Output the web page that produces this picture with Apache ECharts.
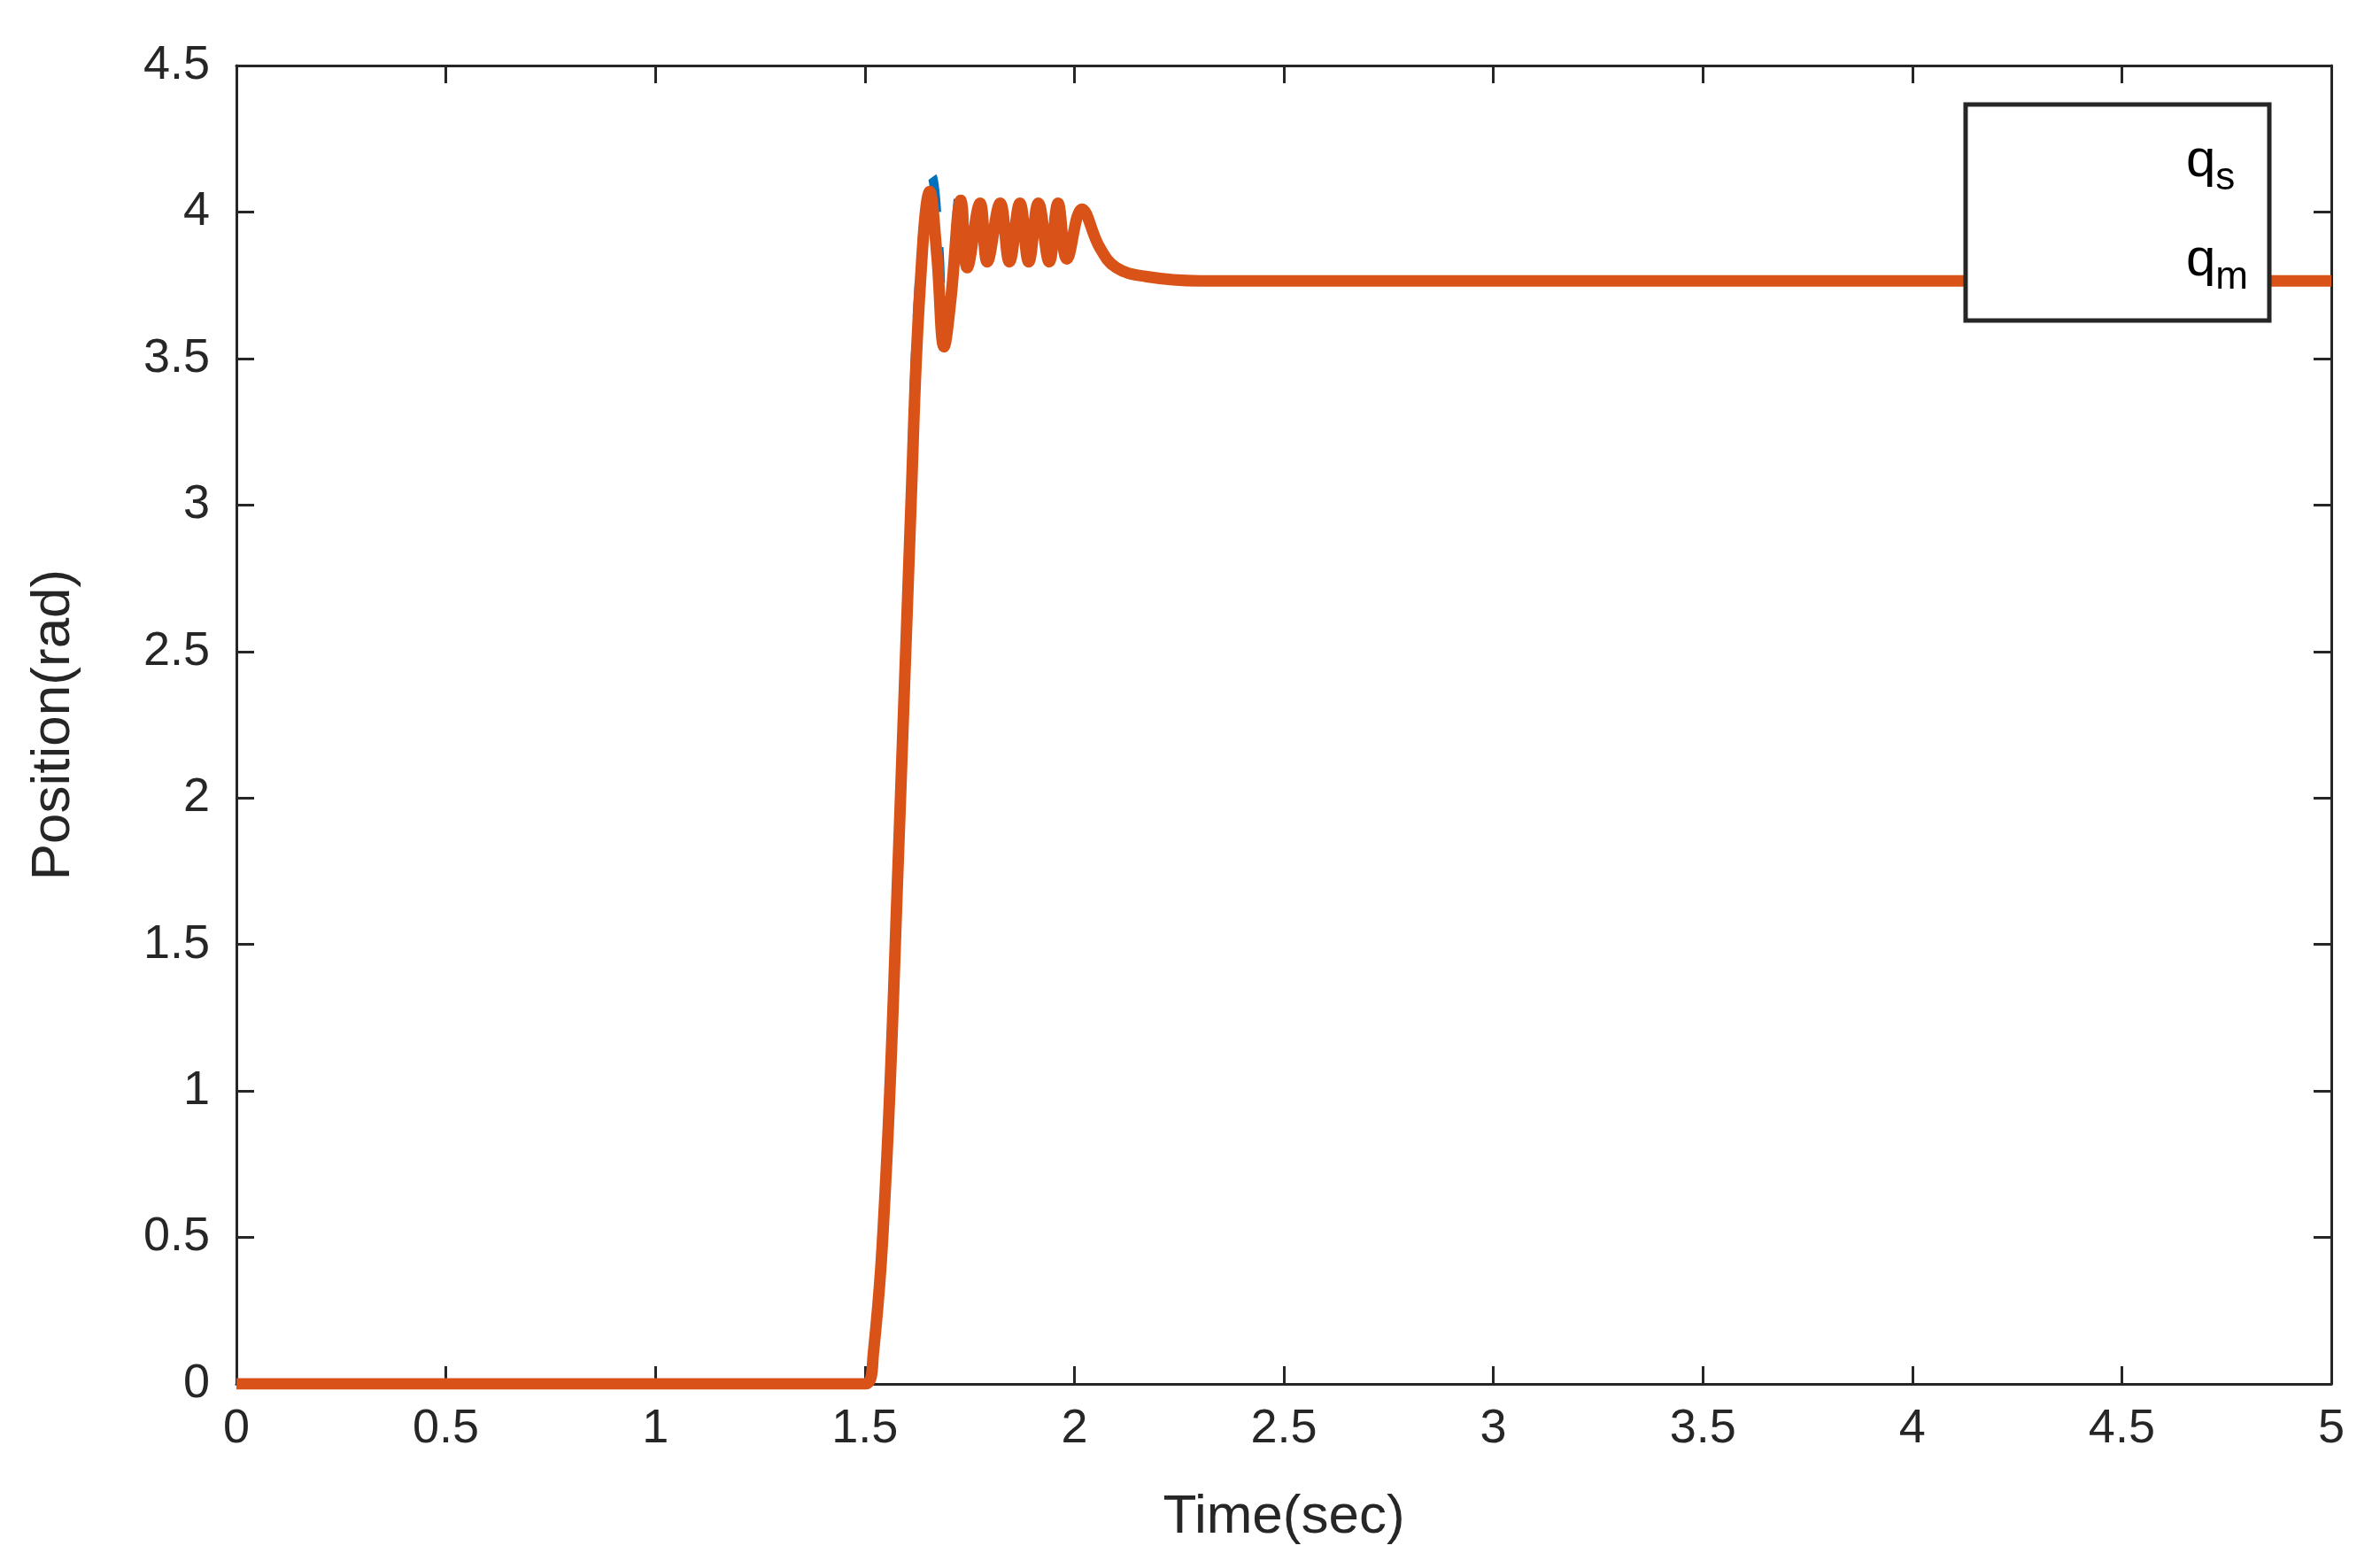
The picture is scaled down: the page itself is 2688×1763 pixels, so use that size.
<!DOCTYPE html>
<html>
<head>
<meta charset="utf-8">
<script src="https://cdn.jsdelivr.net/npm/echarts@6/dist/echarts.min.js"></script>
<style>body{margin:0;background:#fff}#chart{width:2688px;height:1763px}</style>
</head>
<body>
<div id="chart"></div>
<script>
// data (time in sec, position in rad)
const qsData = [
  [0, 0], [1.5, 0], [1.52, 0.1], [1.55, 0.7], [1.58, 1.8], [1.61, 3.0], [1.63, 3.75],
  [1.66, 4.12], [1.675, 3.9], [1.689, 3.54], [1.705, 3.7], [1.73, 4.09], [1.744, 3.81],
  [1.775, 4.03], [1.792, 3.83], [1.823, 4.03], [1.845, 3.83], [1.87, 4.03], [1.891, 3.83],
  [1.914, 4.04], [1.94, 3.83], [1.961, 4.05], [1.982, 3.84], [2.018, 4.01], [2.06, 3.88],
  [2.1, 3.81], [2.17, 3.78], [2.3, 3.765], [5, 3.765]
];
const qmData = [
  [0, 0], [1.5, 0], [1.52, 0.1], [1.55, 0.7], [1.58, 1.8], [1.61, 3.0], [1.63, 3.7],
  [1.655, 4.07], [1.672, 3.85], [1.689, 3.54], [1.705, 3.7], [1.729, 4.04], [1.744, 3.81],
  [1.775, 4.03], [1.792, 3.83], [1.823, 4.03], [1.845, 3.83], [1.87, 4.03], [1.891, 3.83],
  [1.914, 4.03], [1.94, 3.83], [1.961, 4.03], [1.982, 3.84], [2.018, 4.01], [2.06, 3.88],
  [2.1, 3.81], [2.17, 3.78], [2.3, 3.765], [5, 3.765]
];
const xTicks = [0, 0.5, 1, 1.5, 2, 2.5, 3, 3.5, 4, 4.5, 5];

const txt = '#262626';
const font = 'Liberation Sans';
const axisBase = {
  axisLine: { show: true, onZero: false, lineStyle: { color: txt, width: 3 } },
  axisTick: { show: true, inside: true, length: 20, lineStyle: { color: txt, width: 3 } },
  splitLine: { show: false }
};
const chart = echarts.init(document.getElementById('chart'));
chart.setOption({
  animation: false,
  grid: { left: 267, right: 55, top: 74, bottom: 200 },
  xAxis: [
    Object.assign({}, axisBase, {
      type: 'value', min: 0, max: 5, interval: 0.5,
      name: 'Time(sec)', nameLocation: 'middle', nameGap: 120,
      nameTextStyle: { fontFamily: font, fontSize: 62, color: txt },
      axisLabel: { fontFamily: font, fontSize: 54, color: txt, margin: 24,
        formatter: v => xTicks.includes(v) ? String(v) : '' }
    }),
    Object.assign({}, axisBase, { type: 'value', min: 0, max: 5, interval: 0.5, position: 'top', axisLabel: { show: false } })
  ],
  yAxis: [
    Object.assign({}, axisBase, {
      type: 'value', min: 0, max: 4.5, interval: 0.5,
      name: 'Position(rad)', nameLocation: 'middle', nameGap: 175,
      nameTextStyle: { fontFamily: font, fontSize: 62, color: txt },
      axisLabel: { fontFamily: font, fontSize: 54, color: txt, margin: 30 }
    }),
    Object.assign({}, axisBase, { type: 'value', min: 0, max: 4.5, interval: 0.5, position: 'right', axisLabel: { show: false } })
  ],
  legend: {
    right: 125, top: 118, orient: 'vertical', itemWidth: 220, itemHeight: 14, itemGap: 40,
    padding: [34, 24, 26, 24],
    borderColor: txt, borderWidth: 5, backgroundColor: '#fff',
    data: [
      { name: 'qs', icon: 'none', lineStyle: { color: '#0072BD', width: 12, type: [44, 44] } },
      { name: 'qm', icon: 'none', lineStyle: { color: '#D95319', width: 14 } }
    ],
    formatter: n => 'q{sub|' + n.slice(1) + '}',
    textStyle: { fontFamily: font, fontSize: 60, color: '#000',
      rich: { sub: { fontFamily: font, fontSize: 44, color: '#000', padding: [40, 0, 0, 0] } } }
  },
  series: [
    { name: 'qs', type: 'line', data: qsData, symbol: 'none', smooth: 0.4,
      lineStyle: { color: '#0072BD', width: 11, type: [40, 40] }, itemStyle: { color: '#0072BD' } },
    { name: 'qm', type: 'line', data: qmData, symbol: 'none', smooth: 0.4,
      lineStyle: { color: '#D95319', width: 13 }, itemStyle: { color: '#D95319' } }
  ]
});
</script>
</body>
</html>
